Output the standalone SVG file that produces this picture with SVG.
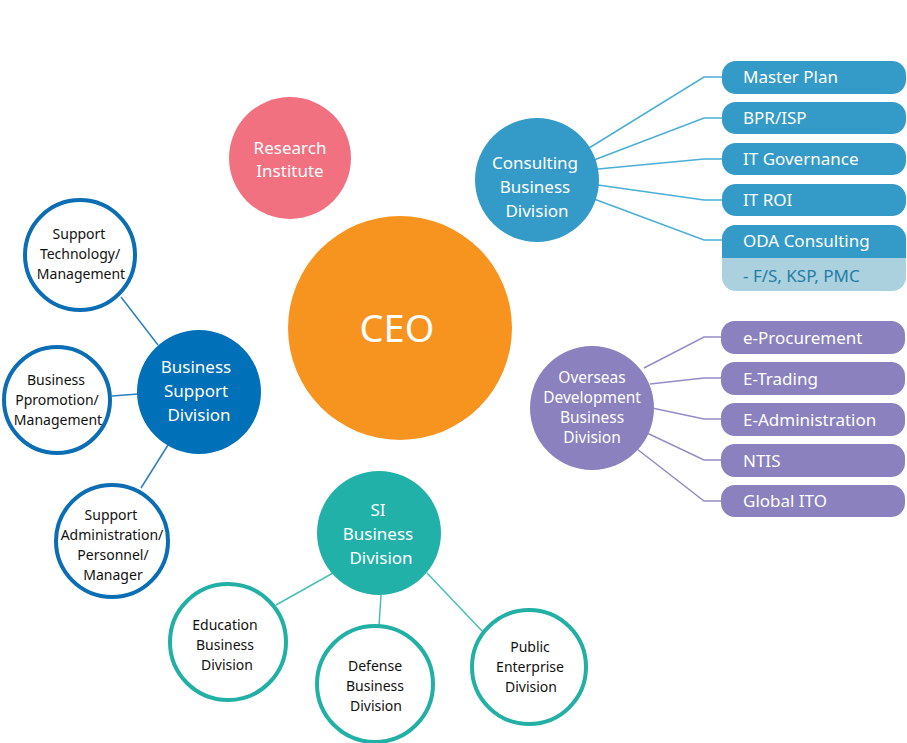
<svg xmlns="http://www.w3.org/2000/svg" width="907" height="743" viewBox="0 0 907 743">
<style>
text{font-family:"Noto Sans","Open Sans",sans-serif;text-anchor:middle}
.w{fill:#fff;font-size:17px}
.o{fill:#fff;font-size:15.5px}
.b{fill:#111;font-size:14px}
.pl{fill:#fff;font-size:17px;text-anchor:start}
.ln{fill:none;stroke-width:1.5}
.sc{fill:#fff;stroke:#0b6db4;stroke-width:4}
.tc{fill:#fff;stroke:#22b0a5;stroke-width:4}
</style>
<g id="connectors">
<g stroke="#4aaed6" class="ln">
<polyline points="589,148 704,77 722,77"/>
<polyline points="594,160 704,118 722,118"/>
<polyline points="598,169 704,159 722,159"/>
<polyline points="598,185 704,200 722,200"/>
<polyline points="594,199 704,240 722,240"/>
</g>
<g stroke="#958cc6" class="ln">
<polyline points="644,368 704,337 722,337"/>
<polyline points="650,384 704,378 722,378"/>
<polyline points="652,408 704,419 722,419"/>
<polyline points="647,433 704,460 722,460"/>
<polyline points="637,449 704,501 722,501"/>
</g>
<g stroke="#2a7fc0" class="ln">
<line x1="121" y1="297" x2="158" y2="345"/>
<line x1="112" y1="396" x2="138" y2="394"/>
<line x1="141" y1="488" x2="168" y2="445"/>
</g>
<g stroke="#48c0b8" class="ln">
<line x1="276" y1="605" x2="333" y2="573"/>
<line x1="379" y1="626" x2="381" y2="595"/>
<line x1="483" y1="632" x2="427" y2="573"/>
</g>
</g>
<g id="research"><circle cx="290" cy="158" r="61" fill="#f27181"/><text class="w" x="290" y="154">Research</text><text class="w" x="290" y="177">Institute</text></g>
<g id="ceo"><circle cx="400" cy="328" r="112" fill="#f7941f"/><text x="397" y="342" fill="#fff" font-size="38">CEO</text></g>
<g id="consulting"><circle cx="537" cy="180" r="62" fill="#349bc8"/><text class="w" x="535" y="169">Consulting</text><text class="w" x="535" y="193">Business</text><text class="w" x="537" y="217">Division</text></g>
<g id="consulting-items" fill="#349bc8">
<rect x="722" y="61" width="184" height="33" rx="14"/><text class="pl" x="743" y="83">Master Plan</text>
<rect x="722" y="102" width="184" height="32" rx="14"/><text class="pl" x="743" y="124">BPR/ISP</text>
<rect x="722" y="143" width="184" height="32" rx="14"/><text class="pl" x="743" y="165">IT Governance</text>
<rect x="722" y="184" width="184" height="32" rx="14"/><text class="pl" x="743" y="206">IT ROI</text>
<rect x="722" y="225" width="184" height="66" rx="14" fill="#abd0de"/>
<path d="M736,225 H892 a14,14 0 0 1 14,14 V258 H722 V239 a14,14 0 0 1 14,-14 Z"/>
<text class="pl" x="743" y="247">ODA Consulting</text>
<text class="pl" x="743" y="282" style="fill:#1f7da8">- F/S, KSP, PMC</text>
</g>
<g id="overseas"><circle cx="592" cy="408" r="62" fill="#8a81be"/><text class="o" x="592" y="383">Overseas</text><text class="o" x="592" y="403">Development</text><text class="o" x="592" y="423">Business</text><text class="o" x="592" y="443">Division</text></g>
<g id="overseas-items" fill="#8a81be">
<rect x="721" y="321" width="184" height="33" rx="14"/><text class="pl" x="743" y="344">e-Procurement</text>
<rect x="721" y="362" width="184" height="33" rx="14"/><text class="pl" x="743" y="385">E-Trading</text>
<rect x="721" y="403" width="184" height="33" rx="14"/><text class="pl" x="743" y="426">E-Administration</text>
<rect x="721" y="444" width="184" height="33" rx="14"/><text class="pl" x="743" y="467">NTIS</text>
<rect x="721" y="485" width="184" height="32" rx="14"/><text class="pl" x="743" y="507">Global ITO</text>
</g>
<g id="business-support"><circle cx="199" cy="392" r="62" fill="#0070b8"/><text class="w" x="196" y="373">Business</text><text class="w" x="196" y="397">Support</text><text class="w" x="199" y="421">Division</text></g>
<g id="support-tech"><circle class="sc" cx="80" cy="255" r="55"/><text class="b" x="79" y="239">Support</text><text class="b" x="80" y="259">Technology/</text><text class="b" x="81" y="279">Management</text></g>
<g id="business-promo"><circle class="sc" cx="57" cy="400" r="53"/><text class="b" x="56" y="385">Business</text><text class="b" x="57" y="405">Ppromotion/</text><text class="b" x="58" y="425">Management</text></g>
<g id="support-admin"><circle class="sc" cx="112" cy="541" r="56"/><text class="b" x="111" y="520">Support</text><text class="b" x="112" y="540">Administration/</text><text class="b" x="113" y="560">Personnel/</text><text class="b" x="113" y="580">Manager</text></g>
<g id="si"><circle cx="379" cy="533" r="62" fill="#21b1a8"/><text class="w" x="378" y="516">SI</text><text class="w" x="378" y="540">Business</text><text class="w" x="381" y="564">Division</text></g>
<g id="education"><circle class="tc" cx="228" cy="642" r="58"/><text class="b" x="225" y="630">Education</text><text class="b" x="225" y="650">Business</text><text class="b" x="227" y="670">Division</text></g>
<g id="defense"><circle class="tc" cx="375" cy="684" r="58"/><text class="b" x="375" y="671">Defense</text><text class="b" x="375" y="691">Business</text><text class="b" x="376" y="711">Division</text></g>
<g id="public"><circle class="tc" cx="529" cy="667" r="57"/><text class="b" x="530" y="652">Public</text><text class="b" x="530" y="672">Enterprise</text><text class="b" x="531" y="692">Division</text></g>
</svg>
